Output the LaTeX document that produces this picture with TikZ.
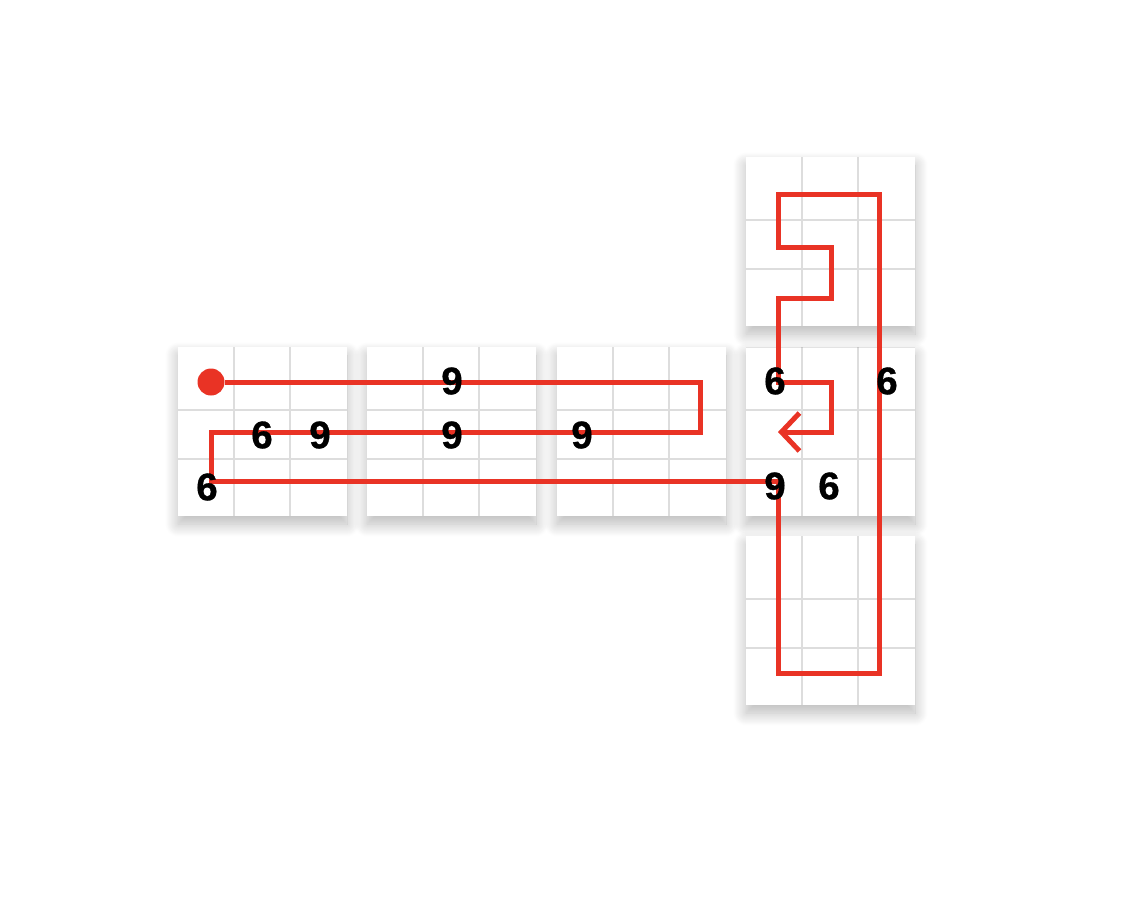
\documentclass[tikz,border=0pt]{standalone}
\usepackage{fontspec}
\setmainfont{Liberation Sans}[BoldFeatures={FakeBold=0.8}]
\usepackage{tikz}
\usetikzlibrary{arrows.meta, shadows.blur}
\definecolor{pathred}{RGB}{233,51,37}
\definecolor{gridgray}{RGB}{221,221,221}
\tikzstyle{redline} = [pathred, line width=5pt]

\begin{document}
\begin{tikzpicture}[x=1pt, y=-1pt,
    digit/.style={font=\fontsize{38.5}{40}\selectfont\bfseries, inner sep=0pt},
    dot/.style={circle, fill=pathred, minimum size=27pt, inner sep=0pt},
    block/.style={fill=white, blur shadow={shadow xshift=0pt, shadow yshift=-8pt, shadow blur radius=13pt, shadow opacity=28, shadow blur steps=20}}]
        \useasboundingbox (0,0) rectangle (1130,898);

        % Blocks - 3x3 grids
        \foreach \bx/\by in {178/347, 367/347, 557/347, 746/347, 746/157, 746/536} {
            \fill[block] (\bx,\by) rectangle ++(169,169);
            \draw[gridgray, line width=1.6pt] (\bx+56,\by) -- ++(0,169);
            \draw[gridgray, line width=1.6pt] (\bx+112,\by) -- ++(0,169);
            \draw[gridgray, line width=1.6pt] (\bx,\by+63) -- ++(169,0);
            \draw[gridgray, line width=1.6pt] (\bx,\by+112) -- ++(169,0);
        }

        % Path corners
        \node[dot] (S) at (211,382) {};
        \coordinate (P1) at (700,382);
        \coordinate (P2) at (700,432);
        \coordinate (P3) at (211,432);
        \coordinate (P4) at (211,481);
        \coordinate (P5) at (778,481);
        \coordinate (P6) at (778,673);
        \coordinate (P7) at (879,673);
        \coordinate (P8) at (879,194);
        \coordinate (P9) at (778,194);
        \coordinate (P10) at (778,247);
        \coordinate (P11) at (831,247);
        \coordinate (P12) at (831,298);
        \coordinate (P13) at (778,298);
        \coordinate (P14) at (778,382);
        \coordinate (P15) at (831,382);
        \coordinate (P16) at (831,432);
        \coordinate (E) at (778,432);

        \draw[redline, -{Straight Barb[length=18pt, width=38pt]}] (S) -- (P1) -- (P2) -- (P3) -- (P4) -- (P5) -- (P6) -- (P7) -- (P8)
            -- (P9) -- (P10) -- (P11) -- (P12) -- (P13) -- (P14) -- (P15) -- (P16) -- (E);

        % Digits
        \node[digit] (A) at (452,381) {9};
        \node[digit] (B) at (262,435) {6};
        \node[digit] (C) at (320,435) {9};
        \node[digit] (D) at (452,435) {9};
        \node[digit] (F) at (582,435) {9};
        \node[digit] (G) at (207,487) {6};
        \node[digit] (H) at (775,381) {6};
        \node[digit] (I) at (887,381) {6};
        \node[digit] (J) at (775,486) {9};
        \node[digit] (K) at (829,486) {6};
      \end{tikzpicture}
\end{document}
